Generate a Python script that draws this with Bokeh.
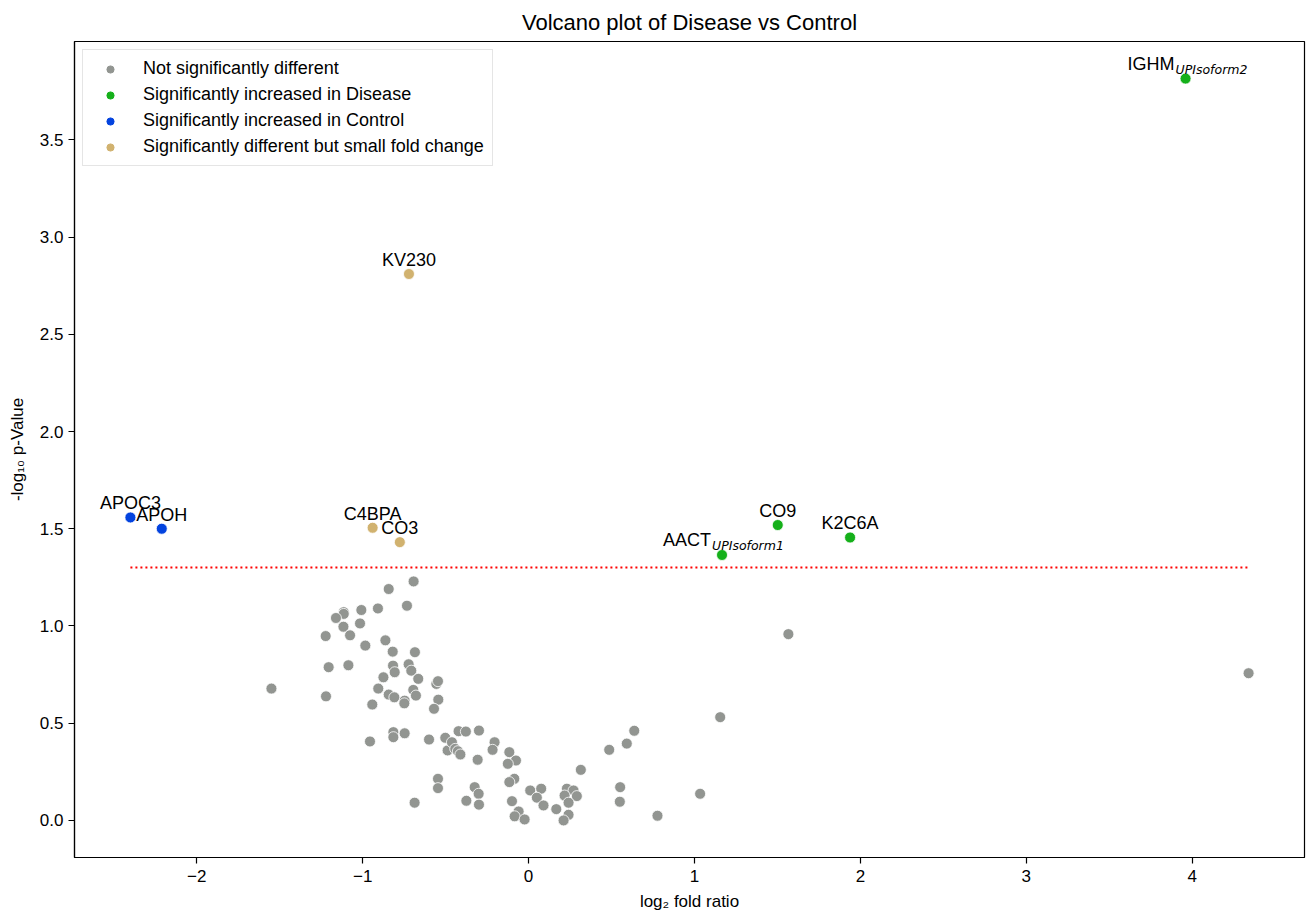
import numpy as np
from bokeh.plotting import figure
from bokeh.models import (ColumnDataSource, Range1d, FixedTicker, LabelSet, Legend,
                          LegendItem, PrintfTickFormatter)
from bokeh.core.properties import value
from bokeh.embed import file_html
from bokeh.resources import INLINE

# ---------------- data ----------------
ns_log2fc = [
    -0.693, -0.843, -0.733, -1.114, -1.114, -1.008, -0.908, -1.161, -1.016, -1.116,
    -1.223, -1.076, -0.984, -0.863, -0.819, -0.685, -1.205, -1.086, -0.817, -0.807,
    -0.723, -0.707, -0.875, -0.665, -1.550, -0.906, -0.843, -0.809, -0.695, -0.679,
    -0.747, -0.749, -1.221, -0.942, -0.556, -0.546, -0.544, -0.570, -0.815, -0.815,
    -0.747, -0.956, -0.600, -0.502, -0.488, -0.546, -0.546, -0.687,
    -0.462, -0.442, -0.426, -0.411, -0.422, -0.378, -0.299, -0.307, -0.205, -0.217,
    -0.116, -0.076, -0.125, -0.086, -0.116, -0.100, -0.060, -0.084, -0.024, -0.325,
    -0.301, -0.299, -0.375, 0.010, 0.076, 0.050, 0.090, 0.167, 0.231, 0.271,
    0.217, 0.291, 0.241, 0.241, 0.211, 0.315, 0.486,
    1.155, 0.637, 0.592, 0.552, 0.550, 0.777, 1.034, 1.566, 4.340,
]
ns_neglog10p = [
    1.229, 1.190, 1.104, 1.071, 1.062, 1.082, 1.090, 1.041, 1.013, 0.996,
    0.948, 0.952, 0.899, 0.926, 0.868, 0.865, 0.788, 0.798, 0.796, 0.762,
    0.803, 0.770, 0.736, 0.728, 0.678, 0.678, 0.647, 0.633, 0.671, 0.642,
    0.616, 0.602, 0.638, 0.596, 0.702, 0.716, 0.621, 0.574, 0.454, 0.428,
    0.448, 0.406, 0.416, 0.425, 0.360, 0.214, 0.166, 0.091,
    0.402, 0.368, 0.356, 0.339, 0.459, 0.457, 0.462, 0.312, 0.402, 0.363,
    0.351, 0.308, 0.291, 0.214, 0.197, 0.099, 0.046, 0.021, 0.005, 0.171,
    0.137, 0.081, 0.101, 0.154, 0.163, 0.117, 0.077, 0.058, 0.163, 0.154,
    0.128, 0.125, 0.091, 0.029, 0.000, 0.260, 0.363,
    0.531, 0.461, 0.395, 0.171, 0.096, 0.024, 0.137, 0.958, 0.757,
]

sig_names = ["IGHM", "KV230", "APOC3", "APOH", "C4BPA", "CO3", "CO9", "K2C6A", "AACT"]
sig_subscripts = ["UPIsoform2", "", "", "", "", "", "", "", "UPIsoform1"]
sig_log2fc = [3.960, -0.721, -2.400, -2.211, -0.940, -0.776, 1.502, 1.938, 1.166]
sig_neglog10p = [3.815, 2.810, 1.558, 1.500, 1.505, 1.431, 1.519, 1.455, 1.365]
sig_group = ["Disease", "small", "Control", "Control", "small", "small",
             "Disease", "Disease", "Disease"]

p_threshold = 0.05
x_ticks = [-2, -1, 0, 1, 2, 3, 4]
y_ticks = [0.0, 0.5, 1.0, 1.5, 2.0, 2.5, 3.0, 3.5]

legend_labels = ["Not significantly different",
                 "Significantly increased in Disease",
                 "Significantly increased in Control",
                 "Significantly different but small fold change"]

# ---------------- style ----------------
FONT = "Liberation Sans"
COL = {"ns": "#929591", "Disease": "#15b01a", "Control": "#0343df", "small": "#d1b26f"}

all_x = ns_log2fc + sig_log2fc
all_y = ns_neglog10p + sig_neglog10p
xmin, xmax = min(all_x), max(all_x)
ymin, ymax = min(all_y), max(all_y)
mx = 0.05 * (xmax - xmin)
my = 0.05 * (ymax - ymin)

p = figure(width=1310, height=913, output_backend="svg", toolbar_location=None,
           x_range=Range1d(xmin - mx, xmax + mx), y_range=Range1d(ymin - my, ymax + my),
           min_border_left=74, min_border_right=6, min_border_top=41, min_border_bottom=56)

p.title.text = "Volcano plot of Disease vs Control"
p.title.align = "center"
p.title.text_font = FONT
p.title.text_font_size = "22px"
p.title.text_font_style = "normal"
p.title.text_color = "black"
p.title.standoff = 14

p.xgrid.visible = False
p.ygrid.visible = False
p.outline_line_color = "black"
p.outline_line_width = 1.2

for ax in (p.xaxis[0], p.yaxis[0]):
    ax.axis_line_color = "black"
    ax.axis_line_width = 1.2
    ax.major_tick_line_color = "black"
    ax.major_tick_line_width = 1.2
    ax.major_tick_out = 6
    ax.major_tick_in = 0
    ax.minor_tick_line_color = None
    ax.major_label_standoff = 5
    ax.major_label_text_font = FONT
    ax.major_label_text_font_size = "17px"
    ax.major_label_text_color = "black"
    ax.axis_label_text_font = FONT
    ax.axis_label_text_font_size = "17px"
    ax.axis_label_text_font_style = "normal"
    ax.axis_label_text_color = "black"

p.xaxis.ticker = FixedTicker(ticks=x_ticks)
p.xaxis.major_label_overrides = {t: (str(t).replace("-", "\u2212")) for t in x_ticks}
p.yaxis.ticker = FixedTicker(ticks=y_ticks)
p.yaxis.formatter = PrintfTickFormatter(format="%.1f")
p.xaxis.axis_label = "log\u2082 fold ratio"
p.yaxis.axis_label = "-log\u2081\u2080 p-Value"
p.xaxis.major_label_standoff = 6
p.xaxis.axis_label_standoff = 7
p.yaxis.axis_label_standoff = 10

# threshold line
thr = -np.log10(p_threshold)
p.line(x=[xmin, xmax], y=[thr, thr], line_color="red", line_width=2, line_dash="2 3")

# points
p.scatter(x=ns_log2fc, y=ns_neglog10p, size=11, fill_color=COL["ns"],
          line_color="white", line_width=0.8)
for g in ["Disease", "Control", "small"]:
    xs = [x for x, gg in zip(sig_log2fc, sig_group) if gg == g]
    ys = [y for y, gg in zip(sig_neglog10p, sig_group) if gg == g]
    p.scatter(x=xs, y=ys, size=11, fill_color=COL[g], line_color="white", line_width=0.8)

# labels
plain = [i for i, s in enumerate(sig_subscripts) if s == ""]
subs = [i for i, s in enumerate(sig_subscripts) if s != ""]
src_plain = ColumnDataSource(dict(x=[sig_log2fc[i] for i in plain],
                                  y=[sig_neglog10p[i] for i in plain],
                                  t=[sig_names[i] for i in plain]))
src_sub = ColumnDataSource(dict(x=[sig_log2fc[i] for i in subs],
                                y=[sig_neglog10p[i] for i in subs],
                                t=[sig_names[i] for i in subs],
                                s=[sig_subscripts[i] for i in subs]))
p.add_layout(LabelSet(x="x", y="y", text="t", source=src_plain, x_offset=0, y_offset=8,
                      text_align="center", text_baseline="alphabetic",
                      text_font=value(FONT), text_font_size="18px", text_color="black"))
p.add_layout(LabelSet(x="x", y="y", text="t", source=src_sub, x_offset=-11, y_offset=9,
                      text_align="right", text_baseline="alphabetic",
                      text_font=value(FONT), text_font_size="18px", text_color="black"))
p.add_layout(LabelSet(x="x", y="y", text="s", source=src_sub, x_offset=-10, y_offset=5,
                      text_align="left", text_baseline="alphabetic",
                      text_font=value("DejaVu Sans"), text_font_style="italic",
                      text_font_size="12.5px", text_color="black"))

# legend (proxy renderers)
items = []
for lab, key in zip(legend_labels, ["ns", "Disease", "Control", "small"]):
    r = p.scatter(x=[np.nan], y=[np.nan], size=7, fill_color=COL[key], line_color=COL[key])
    items.append(LegendItem(label=lab, renderers=[r]))
legend = Legend(items=items, location="top_left", margin=8, padding=8,
                glyph_width=38, glyph_height=18, label_height=20, spacing=5,
                label_standoff=14, label_text_font=FONT, label_text_font_size="18px",
                label_text_color="black",
                border_line_color="#cccccc", border_line_width=1,
                background_fill_color="white", background_fill_alpha=0.8)
p.add_layout(legend)

open("out.html", "w").write(file_html(p, INLINE))
